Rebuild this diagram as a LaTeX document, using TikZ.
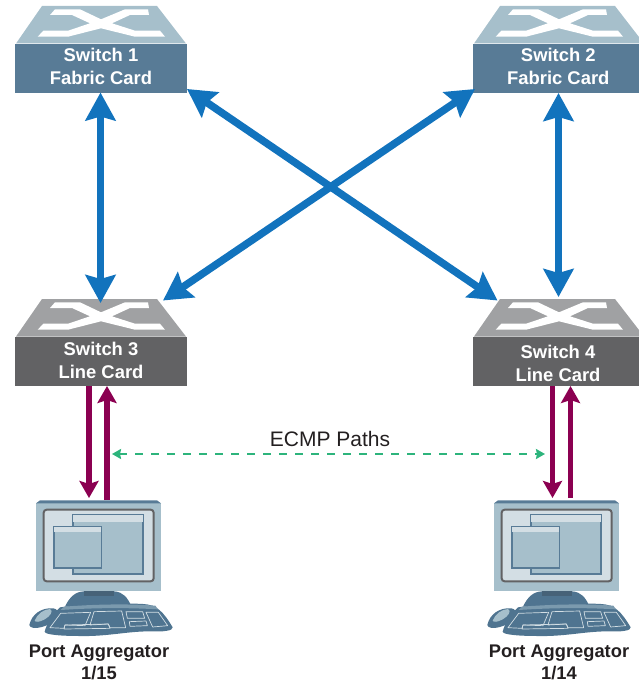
\documentclass[tikz,border=0pt]{standalone}
\usepackage{fontspec}
\setmainfont{Liberation Sans}
\usetikzlibrary{arrows.meta}
\definecolor{topblue}{HTML}{A6BFCB}
\definecolor{frontblue}{HTML}{587B96}
\definecolor{topgrey}{HTML}{A0A1A3}
\definecolor{frontgrey}{HTML}{626264}
\definecolor{linkblue}{HTML}{1273BD}
\definecolor{linkred}{HTML}{8B0051}
\definecolor{ecmp}{HTML}{2DB47C}
\definecolor{scrn}{HTML}{D3DEE4}
\definecolor{darkkey}{HTML}{4F7490}
\definecolor{labeltext}{HTML}{231F20}
\tikzset{
  x=1pt,y=-1pt,
  front/.style={minimum width=172pt,minimum height=49pt,inner sep=0pt},
  fronttext/.style={inner sep=0pt,align=center,text=white,font=\fontsize{18.4}{23}\selectfont\bfseries},
  biglink/.style={draw=linkblue,line width=7.5pt,{Stealth[length=28pt,width=30pt,inset=4pt]}-{Stealth[length=28pt,width=30pt,inset=4pt]}},
  redlink/.style={draw=linkred,line width=5.8pt,-{Stealth[length=17pt,width=19pt,inset=3pt]}},
  ecmplink/.style={draw=ecmp,line width=2.4pt,dash pattern=on 8pt off 8pt,{Stealth[length=9pt,width=10pt,inset=1pt]}-{Stealth[length=9pt,width=10pt,inset=1pt]}},
  caption/.style={align=center,text=labeltext,inner sep=0pt,font=\fontsize{18.3}{22}\selectfont\bfseries},
  pathlabel/.style={inner sep=0pt,text=labeltext,font=\fontsize{21}{24}\selectfont}
}
\newcommand{\switchtop}[3]{% x offset, y offset, colour
  \begin{scope}[shift={(#1,#2)}]
    \fill[#3] (42,6) -- (157,6) -- (186,43.5) -- (16,43.5) -- cycle;
    \fill[white] (55,9.3) -- (80,9.3) -- (101,19.3) -- (125,9.3) -- (148,9.3) -- (149,15) -- (130,15) -- (112,23.3) -- (135,30.7) -- (160,30.7) -- (165,36.7) -- (135,36.7) -- (101,28.3) -- (68,36.7) -- (37.7,36.7) -- (43.3,30.7) -- (68,30.7) -- (90,23.3) -- (72,15) -- (50,15) -- cycle;
  \end{scope}}
\newcommand{\computer}[1]{%
  \begin{scope}[shift={(#1,490)},scale=1/3]
    % monitor
    \fill[topblue] (78,40) rectangle (453,302);
    \fill[frontblue] (78,40) -- (90,31) -- (441,31) -- (453,40) -- cycle;
    \fill[scrn,draw=frontgrey,line width=2pt,rounded corners=3pt] (101,59) rectangle (431,274);
    \fill[topblue,draw=frontblue,line width=1.5pt] (189,73) rectangle (401,254);
    \fill[scrn] (190,74) rectangle (400,96);
    \fill[frontblue] (189,250) rectangle (401,254);
    \fill[frontblue] (396,96) rectangle (401,254);
    \fill[topblue,draw=frontblue,line width=1.5pt] (132,109) rectangle (275,236);
    \fill[scrn] (133,110) rectangle (274,126);
    \fill[frontblue] (132,232) rectangle (275,236);
    % stand
    \fill[darkkey] (165,350) .. controls (178,322) and (195,305) .. (222,304) -- (312,304) .. controls (340,306) and (352,322) .. (365,350) -- cycle;
    \fill[frontblue!80!black] (222,304) rectangle (312,318);
    % mouse
    \fill[darkkey] (58,405) .. controls (65,372) and (95,352) .. (130,355) .. controls (150,358) and (152,385) .. (125,398) .. controls (105,412) and (62,422) .. (58,405) -- cycle;
    \fill[topblue] (74,392) .. controls (82,372) and (100,358) .. (120,357) .. controls (132,362) and (120,380) .. (104,388) .. controls (90,396) and (76,398) .. (74,392) -- cycle;
    % keyboard
    \fill[darkkey] (150,352) .. controls (220,342) and (330,338) .. (400,342) .. controls (440,344) and (460,365) .. (488,412) .. controls (490,422) and (460,426) .. (420,424) .. controls (350,424) and (290,440) .. (210,438) .. controls (160,438) and (105,435) .. (104,425) .. controls (110,400) and (130,370) .. (150,352) -- cycle;
    \fill[frontblue!55!topblue] (162,350) .. controls (240,344) and (340,340) .. (436,347) -- (444,358) .. controls (340,352) and (240,354) .. (152,360) -- cycle;
    \begin{scope}[draw=scrn,line width=.7pt,line join=round]
      \draw (152,370) -- (242,367) -- (225,407) -- (165,405) -- (162,415) -- (120,413) -- cycle;
      \draw (165,405) -- (295,402) -- (300,415) -- (162,417) -- cycle;
      \draw (252,365) -- (335,363) -- (347,413) -- (300,413) -- (295,402) -- (240,405) -- cycle;
      \draw (348,365) -- (398,365) -- (404,385) -- (352,385) -- cycle;
      \draw (358,395) -- (408,393) -- (412,407) -- (360,409) -- cycle;
      \draw (408,367) -- (445,367) -- (473,407) -- (428,411) -- cycle;
    \end{scope}
  \end{scope}}
\begin{document}
\begin{tikzpicture}
\useasboundingbox (0,0) rectangle (639,682);
\clip (0,0) rectangle (639,682);
% Switches
\switchtop{0}{0}{topblue}
\switchtop{458}{0}{topblue}
\switchtop{0}{293}{topgrey}
\switchtop{458}{293}{topgrey}
\node[front,fill=frontblue] (sw1) at (101,68.5) {};
\node[front,fill=frontblue] (sw2) at (559,68.5) {};
\node[front,fill=frontgrey] (sw3) at (101,361.5) {};
\node[front,fill=frontgrey] (sw4) at (559,361.5) {};
\node[fronttext] (t1) at (101,66.8) {Switch 1\\Fabric Card};
\node[fronttext] (t2) at (558.3,66.8) {Switch 2\\Fabric Card};
\node[fronttext] (t3) at (101,360) {Switch 3\\Line Card};
\node[fronttext] (t4) at (558,363.5) {Switch 4\\Line Card};
\coordinate (sw1b) at (100.5,92.5);
\coordinate (sw3t) at (100.5,303);
\coordinate (sw2b) at (558.5,93);
\coordinate (sw4t) at (558.5,297);
\coordinate (sw1c) at (187,89);
\coordinate (sw4c) at (497.5,300.5);
\coordinate (sw2c) at (475,89);
\coordinate (sw3c) at (163,300.5);
% Computers
\computer{10}
\computer{468}
\node[caption] (pa1) at (99,662.5) {Port Aggregator\\1/15};
\node[caption] (pa2) at (559,662.5) {Port Aggregator\\1/14};
\coordinate (sw3d) at (89,386);
\coordinate (pa1d) at (89,498);
\coordinate (pa1u) at (107,500);
\coordinate (sw3u) at (107,386);
\coordinate (sw4d) at (552.5,386);
\coordinate (pa2d) at (552.5,498);
\coordinate (pa2u) at (570.5,498);
\coordinate (sw4u) at (570.5,386);
% Links
\draw[biglink] (sw1b) -- (sw3t);
\draw[biglink] (sw2b) -- (sw4t);
\draw[biglink] (sw1c) -- (sw4c);
\draw[biglink] (sw2c) -- (sw3c);
\draw[redlink] (sw3d) -- (pa1d);
\draw[redlink] (pa1u) -- (sw3u);
\draw[redlink] (sw4d) -- (pa2d);
\draw[redlink] (pa2u) -- (sw4u);
\coordinate (el) at (112,454);
\coordinate (er) at (545,454);
\draw[ecmplink] (el) -- (er);
\node[pathlabel] (ecmp) at (330,438.5) {ECMP Paths};
\end{tikzpicture}
\end{document}
